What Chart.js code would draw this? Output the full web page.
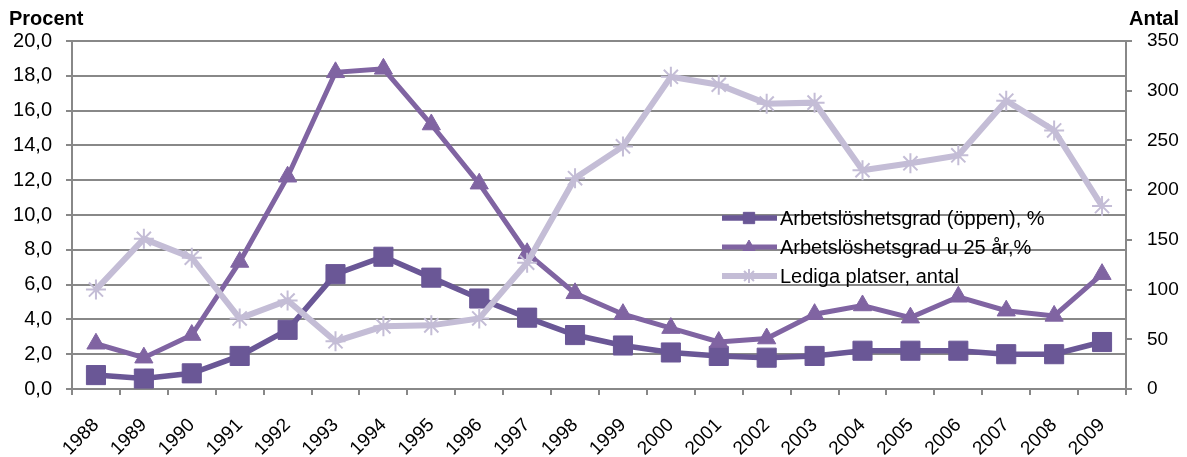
<!DOCTYPE html>
<html>
<head>
<meta charset="utf-8">
<script src="https://cdn.jsdelivr.net/npm/chart.js@4.4.0/dist/chart.umd.min.js"></script>
<style>
  html, body { margin: 0; padding: 0; background: #fff; }
  #wrap { width: 1187px; height: 457px; position: relative; }
</style>
</head>
<body>
<div id="wrap"><canvas id="chart"></canvas></div>
<script>
// データ
const years = ['1988', '1989', '1990', '1991', '1992', '1993', '1994', '1995', '1996', '1997', '1998',
               '1999', '2000', '2001', '2002', '2003', '2004', '2005', '2006', '2007', '2008', '2009'];
const oppen = [0.8, 0.6, 0.9, 1.9, 3.4, 6.6, 7.6, 6.4, 5.2, 4.1, 3.1, 2.5, 2.1, 1.9, 1.8, 1.9, 2.2, 2.2, 2.2, 2.0, 2.0, 2.7];
const unga = [2.6, 1.8, 3.1, 7.3, 12.2, 18.2, 18.4, 15.2, 11.8, 7.8, 5.5, 4.3, 3.5, 2.7, 2.9, 4.3, 4.8, 4.1, 5.3, 4.5, 4.2, 6.6];
const lediga = [100, 151, 132, 71, 89, 48, 63, 64, 71, 127, 212, 244, 314, 306, 287, 288, 220, 227, 235, 290, 260, 184];
const seriesNames = ['Arbetslöshetsgrad (öppen), %', 'Arbetslöshetsgrad u 25 år,%', 'Lediga platser, antal'];

const gridColor = '#888888';
const colors = ['#6a5796', '#8064a2', '#c4bdd6'];
const FONT = 'Liberation Sans, Arial, sans-serif';

// 軸タイトルと凡例を描画
const decorPlugin = {
    id: 'decor',
    afterDraw(chart) {
        const ctx = chart.ctx;
        ctx.save();
        ctx.fillStyle = '#000';
        ctx.font = 'bold 20px ' + FONT;
        ctx.textBaseline = 'middle';
        ctx.textAlign = 'left';
        ctx.fillText('Procent', 9, 19);
        ctx.textAlign = 'right';
        ctx.fillText('Antal', 1179, 19);

        // 凡例
        const rows = [218, 247, 276];
        chart.data.datasets.forEach((ds, i) => {
            const y = rows[i];
            ctx.strokeStyle = ds.borderColor;
            ctx.lineWidth = ds.borderWidth;
            ctx.beginPath();
            ctx.moveTo(722, y);
            ctx.lineTo(777, y);
            ctx.stroke();
            ctx.fillStyle = ds.pointBackgroundColor;
            ctx.strokeStyle = ds.pointBorderColor;
            ctx.lineWidth = ds.pointBorderWidth;
            Chart.helpers.drawPoint(ctx, {
                pointStyle: ds.pointStyle,
                radius: ds.legendRadius,
                rotation: 0,
                borderWidth: ds.pointBorderWidth
            }, 749, y);
            ctx.fillStyle = '#000';
            ctx.font = '20px ' + FONT;
            ctx.textAlign = 'left';
            ctx.fillText(seriesNames[i], 780, y + 1);
        });
        ctx.restore();
    }
};

const ctx = document.getElementById('chart');
new Chart(ctx, {
    type: 'line',
    data: {
        labels: years,
        datasets: [
            {
                label: seriesNames[0],
                data: oppen,
                yAxisID: 'y',
                borderColor: colors[0],
                borderWidth: 5.5,
                pointStyle: 'rect',
                pointRadius: 13.5,
                legendRadius: 8,
                pointBackgroundColor: colors[0],
                pointBorderColor: colors[0],
                pointBorderWidth: 1,
                order: 2
            },
            {
                label: seriesNames[1],
                data: unga,
                yAxisID: 'y',
                borderColor: colors[1],
                borderWidth: 5,
                pointStyle: 'triangle',
                pointRadius: 10.5,
                legendRadius: 7,
                pointBackgroundColor: colors[1],
                pointBorderColor: colors[1],
                pointBorderWidth: 1,
                order: 1
            },
            {
                label: seriesNames[2],
                data: lediga,
                yAxisID: 'y1',
                borderColor: colors[2],
                borderWidth: 6,
                pointStyle: 'star',
                pointRadius: 10,
                legendRadius: 7,
                pointBackgroundColor: colors[2],
                pointBorderColor: colors[2],
                pointBorderWidth: 2,
                order: 0
            }
        ]
    },
    options: {
        responsive: true,
        maintainAspectRatio: false,
        animation: false,
        layout: { padding: { top: 41, left: 0, right: 0, bottom: 0 } },
        plugins: {
            legend: { display: false },
            tooltip: { enabled: false }
        },
        elements: { line: { tension: 0 } },
        scales: {
            x: {
                offset: true,
                grid: {
                    offset: true,
                    drawOnChartArea: false,
                    drawTicks: true,
                    tickLength: 6,
                    color: gridColor,
                    lineWidth: 2
                },
                border: { color: gridColor, width: 2 },
                ticks: {
                    color: '#000',
                    font: { family: FONT, size: 19 },
                    minRotation: 45,
                    maxRotation: 45,
                    autoSkip: false,
                    padding: 19
                },
                afterFit: s => { s.height = 68; }
            },
            y: {
                position: 'left',
                min: 0,
                max: 20,
                ticks: {
                    stepSize: 2,
                    color: '#000',
                    font: { family: FONT, size: 20 },
                    padding: 14,
                    callback: v => v.toFixed(1).replace('.', ',')
                },
                grid: { color: gridColor, lineWidth: 2, tickLength: 6 },
                border: { color: gridColor, width: 2 },
                afterFit: s => { s.width = 72; }
            },
            y1: {
                position: 'right',
                min: 0,
                max: 350,
                ticks: {
                    stepSize: 50,
                    color: '#000',
                    font: { family: FONT, size: 19 },
                    padding: 15
                },
                grid: { drawOnChartArea: false, color: gridColor, lineWidth: 2, tickLength: 6 },
                border: { color: gridColor, width: 2 },
                afterFit: s => { s.width = 61; }
            }
        }
    },
    plugins: [decorPlugin]
});
</script>
</body>
</html>
